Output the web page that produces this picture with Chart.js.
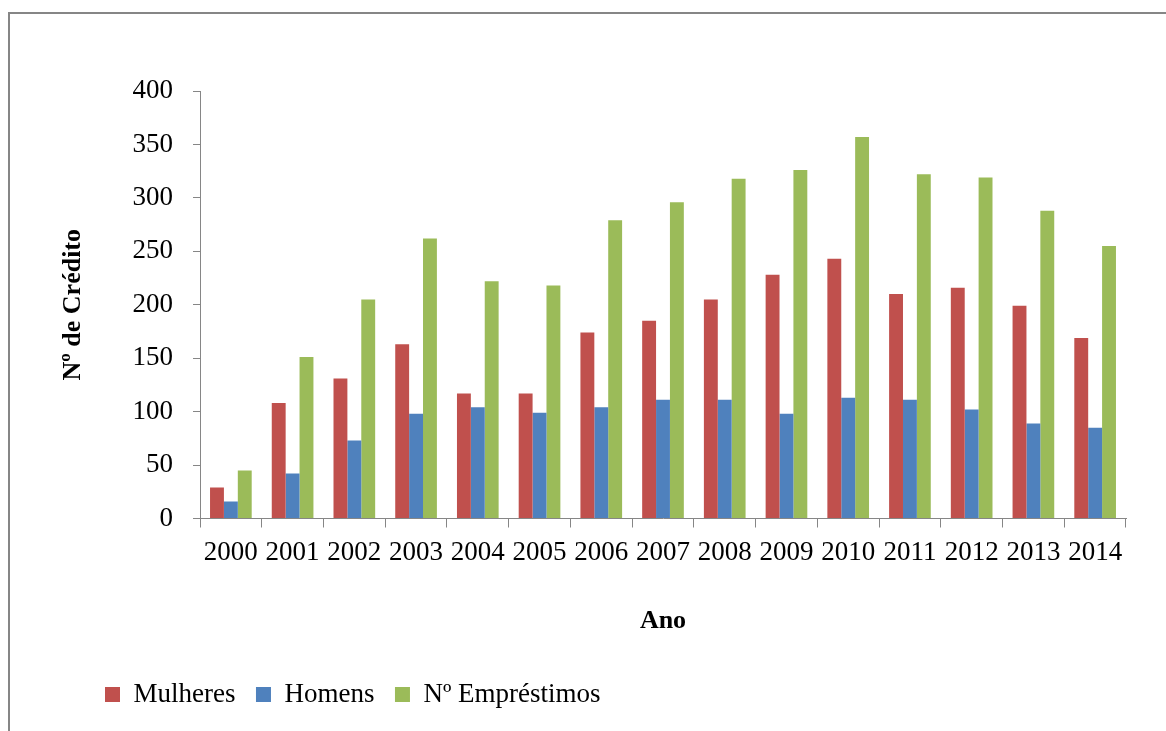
<!DOCTYPE html>
<html>
<head>
<meta charset="utf-8">
<script src="https://cdn.jsdelivr.net/npm/chart.js@4/dist/chart.umd.min.js"></script>
<style>
  html, body { margin: 0; padding: 0; background: #fff; overflow: hidden; width: 1166px; height: 731px; }
  #frame { position: absolute; left: 8px; top: 12px; width: 1200px; height: 800px; border: 2px solid #868686; }
  #wrap { position: absolute; left: 0; top: 0; width: 1166px; height: 718px; }
</style>
</head>
<body>
<div id="frame"></div>
<div id="wrap"><canvas id="c"></canvas></div>
<script>
// Créditos concedidos por ano
const anos = ['2000','2001','2002','2003','2004','2005','2006','2007','2008','2009','2010','2011','2012','2013','2014'];
const mulheres = [29, 108, 131, 163, 117, 117, 174, 185, 205, 228, 243, 210, 216, 199, 169];
const homens = [16, 42, 73, 98, 104, 99, 104, 111, 111, 98, 113, 111, 102, 89, 85];
const emprestimos = [45, 151, 205, 262, 222, 218, 279, 296, 318, 326, 357, 322, 319, 288, 255];
const yTicks = [0, 50, 100, 150, 200, 250, 300, 350, 400];

const serif = "'Liberation Serif', 'Times New Roman', serif";
const axisGray = '#868686';

new Chart(document.getElementById('c'), {
  type: 'bar',
  data: {
    labels: anos,
    datasets: [
      { label: 'Mulheres', data: mulheres, backgroundColor: '#C0504D' },
      { label: 'Homens', data: homens, backgroundColor: '#4F81BD' },
      { label: 'Nº Empréstimos', data: emprestimos, backgroundColor: '#9BBB59' }
    ]
  },
  options: {
    responsive: true,
    maintainAspectRatio: false,
    animation: false,
    layout: { padding: { left: 84.5, right: 40, top: 91, bottom: 0 } },
    datasets: { bar: { categoryPercentage: 0.675, barPercentage: 1.0 } },
    plugins: {
      tooltip: { enabled: false },
      legend: {
        position: 'bottom',
        align: 'start',
        labels: {
          boxWidth: 15,
          boxHeight: 15,
          padding: 20.5,
          color: '#000',
          font: { family: serif, size: 27 }
        }
      }
    },
    scales: {
      x: {
        grid: { offset: true, drawOnChartArea: false, drawTicks: true, tickLength: 9, color: axisGray },
        border: { display: true, color: axisGray, width: 1 },
        ticks: { color: '#000', font: { family: serif, size: 27 }, padding: 9, maxRotation: 0, autoSkip: false },
        title: { display: true, text: 'Ano', color: '#000', font: { family: serif, size: 26, weight: 'bold' }, padding: { top: 0, bottom: 24 } },
        afterFit: (s) => { s.height = 142; }
      },
      y: {
        min: 0,
        max: 400,
        afterBuildTicks: (s) => { s.ticks = yTicks.map(v => ({ value: v })); },
        grid: { drawOnChartArea: false, drawTicks: true, tickLength: 7, color: axisGray },
        border: { display: true, color: axisGray, width: 1 },
        ticks: { color: '#000', font: { family: serif, size: 27 }, padding: 20 },
        title: { display: true, text: 'Nº de Crédito', color: '#000', font: { family: serif, size: 26, weight: 'bold' }, padding: { top: -27, bottom: 0 } },
        afterFit: (s) => { s.width = 115.5; }
      }
    }
  }
});
</script>
</body>
</html>
